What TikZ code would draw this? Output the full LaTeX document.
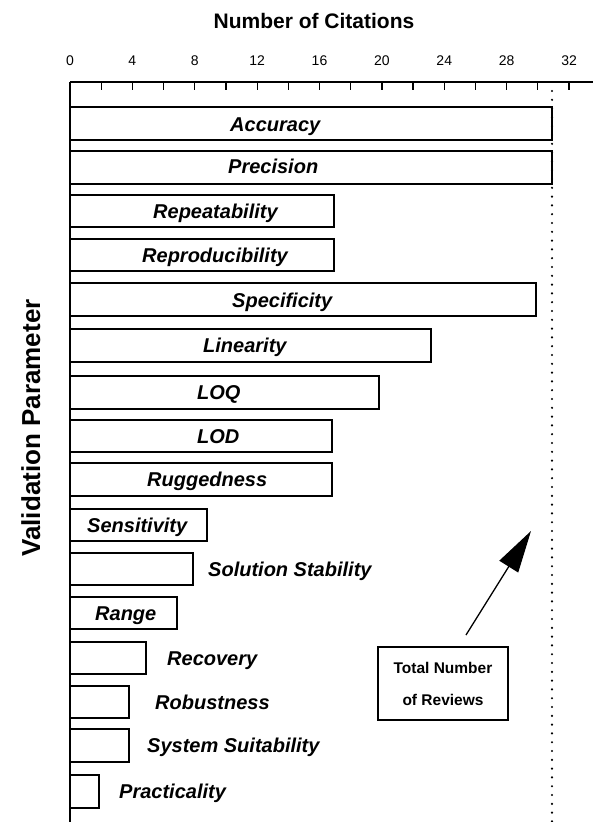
\documentclass[tikz,border=0pt]{standalone}
\usepackage{fontspec}
\setmainfont{Liberation Sans}
\usetikzlibrary{arrows.meta}
\tikzset{
  bar/.style={draw=black, line width=1.2pt},
  blabel/.style={font=\fontsize{20}{24}\selectfont\bfseries\itshape, inner sep=0pt, anchor=base west},
  ticklab/.style={font=\fontsize{14}{16}\selectfont, inner sep=0pt},
  tickmark/.style={line width=1.2pt},
  axisline/.style={line width=2.2pt},
  dotline/.style={line width=2.4pt, line cap=round, dash pattern=on 0pt off 8.8pt},
  titlelab/.style={font=\fontsize{21}{24}\selectfont\bfseries, inner sep=0pt},
  notebox/.style={draw=black, line width=1.2pt, minimum width=130pt, minimum height=73pt, align=center, font=\fontsize{15.5}{32}\selectfont\bfseries},
  pointer/.style={line width=1.3pt, -{Triangle[length=42pt,width=22pt]}}
}
\begin{document}
\begin{tikzpicture}[x=1pt,y=-1pt]
\useasboundingbox (0,0) rectangle (593,822);
\fill[white] (0,0) rectangle (593,822);

% titles
\node[titlelab] (xtitle) at (314,20.5) {Number of Citations};
\node[font=\fontsize{26}{30}\selectfont\bfseries, inner sep=0pt, rotate=90, anchor=base] (ytitle) at (40,428) {Validation Parameter};

% axes
\draw[axisline] (70,82) -- (593,82);
\draw[axisline] (70,82) -- (70,822);
\foreach \k in {1,...,16} \draw[tickmark] ({70+31.19*\k},82) -- ++(0,8);
\foreach \v in {0,4,...,32} \node[ticklab] (t\v) at ({70+31.19*\v/2},61) {\v};

% total reviews dotted line
\draw[dotline] (552,91) -- (552,822);

% bars
\draw[bar] (70,107) rectangle (552,140);
\draw[bar] (70,151) rectangle (552,184);
\draw[bar] (70,195) rectangle (334,227);
\draw[bar] (70,239) rectangle (334,271);
\draw[bar] (70,283) rectangle (536,316);
\draw[bar] (70,329) rectangle (431,362);
\draw[bar] (70,376) rectangle (379,409);
\draw[bar] (70,420) rectangle (332,452);
\draw[bar] (70,463) rectangle (332,496);
\draw[bar] (70,509) rectangle (207,541);
\draw[bar] (70,553) rectangle (193,585);
\draw[bar] (70,597) rectangle (177,629);
\draw[bar] (70,642) rectangle (146,674);
\draw[bar] (70,686) rectangle (129,718);
\draw[bar] (70,729) rectangle (129,762);
\draw[bar] (70,775) rectangle (99,808);

% labels
\node[blabel] (l1) at (230,131.5) {Accuracy};
\node[blabel] (l2) at (228,173.5) {Precision};
\node[blabel] (l3) at (153,218) {Repeatability};
\node[blabel] (l4) at (142,262) {Reproducibility};
\node[blabel] (l5) at (232,307.5) {Specificity};
\node[blabel] (l6) at (203,352.5) {Linearity};
\node[blabel] (l7) at (197,399.5) {LOQ};
\node[blabel] (l8) at (197,443) {LOD};
\node[blabel] (l9) at (147,486.5) {Ruggedness};
\node[blabel] (l10) at (87,532) {Sensitivity};
\node[blabel] (l11) at (208,576) {Solution Stability};
\node[blabel] (l12) at (95,620) {Range};
\node[blabel] (l13) at (167,665) {Recovery};
\node[blabel] (l14) at (155,709) {Robustness};
\node[blabel] (l15) at (147,752.5) {System Suitability};
\node[blabel] (l16) at (119,798.5) {Practicality};

% note box and arrow
\node[notebox] (box) at (443,683.5) {Total Number\\of Reviews};
\coordinate (arrtail) at (466,635);
\coordinate (arrtip) at (531,531);
\draw[pointer] (arrtail) -- (arrtip);
\end{tikzpicture}
\end{document}
